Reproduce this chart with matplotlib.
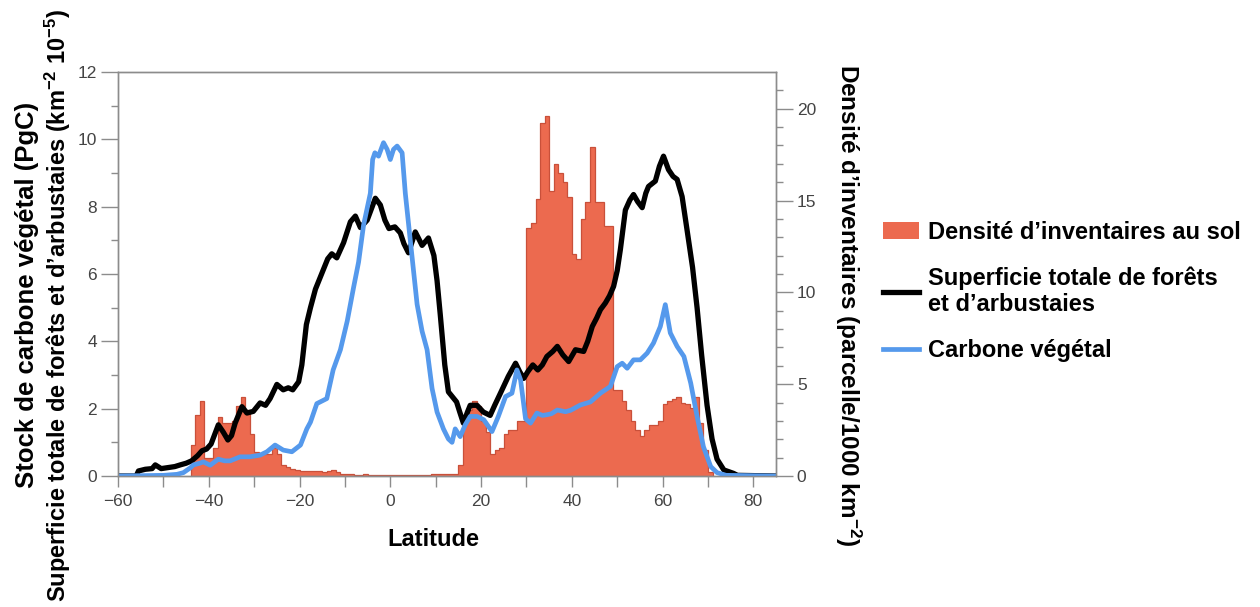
import numpy as np
import matplotlib.pyplot as plt
from matplotlib.patches import Patch
from matplotlib.lines import Line2D

plt.rcParams['font.family'] = ['Liberation Sans', 'DejaVu Sans']
plt.rcParams['mathtext.fontset'] = 'custom'
plt.rcParams['mathtext.rm'] = 'Liberation Sans:bold'
plt.rcParams['mathtext.it'] = 'Liberation Sans:italic:bold'
plt.rcParams['mathtext.bf'] = 'Liberation Sans:bold'

# Densité d'inventaires au sol (parcelle/1000 km-2), classes de 1° de latitude
dens_start = -44
dens = [1.7, 3.3, 4.1, 1.0, 1.0, 1.5, 3.2, 2.9, 2.9, 3.0,      # -44 .. -35
        3.8, 4.3, 3.6, 2.3, 1.3, 1.25, 1.2, 1.2, 1.5, 1.2,      # -34 .. -25
        0.6, 0.5, 0.4, 0.35, 0.3, 0.25, 0.3, 0.25, 0.3, 0.2,    # -24 .. -15
        0.25, 0.35, 0.2, 0.1, 0.1, 0.1, 0.08, 0.08, 0.1, 0.05,  # -14 .. -5
        0.05, 0.05, 0.05, 0.05, 0.05, 0.05, 0.05, 0.05, 0.05, 0.05,  # -4 .. 5
        0.05, 0.05, 0.05, 0.1, 0.1, 0.1, 0.1, 0.1, 0.1, 0.6,    # 6 .. 15
        3.0, 3.6, 4.1, 3.8, 3.0, 2.4, 1.2, 1.4, 1.5, 2.3,       # 16 .. 25
        2.5, 2.5, 3.0, 3.0, 13.5, 13.8, 15.1, 19.2, 19.6, 15.5, # 26 .. 35
        17.0, 16.5, 16.0, 15.2, 12.1, 11.8, 14.0, 14.9, 17.9, 14.9,  # 36 .. 45
        14.9, 13.6, 13.6, 4.7, 4.7, 4.1, 3.6, 3.0, 2.5, 2.2,    # 46 .. 55
        2.5, 2.8, 2.8, 3.0, 3.9, 4.1, 4.2, 4.3, 4.0, 3.9,       # 56 .. 65
        3.7, 4.3, 2.9, 1.4, 0.2]                                # 66 .. 70
dens_edges = np.arange(dens_start, dens_start + len(dens) + 1)

# Superficie totale de forêts et d'arbustaies
lat_foret = [-60, -56, -55.5, -54, -52.5, -51.8, -50.5, -49, -47.5, -46.3,
             -45, -43.8, -42.5, -41.5, -40.5, -39.5, -38.8, -37.9, -36.8, -35.8,
             -35, -34.2, -32.7, -31.6, -30.2, -28.7, -27.5, -26.5, -25, -23.6,
             -22.5, -21.5, -20.2, -19.5, -18.5, -17.6, -16.5, -14.7, -13.8, -12.9,
             -11.8, -10.3, -8.8, -7.7, -6.6, -5.1, -3.3, -2.2, -1.2, -0.3,
             1.0, 2.2, 3.0, 4.0, 5.5, 7.0, 8.4, 9.6, 10.3, 11.0,
             12.0, 12.8, 14.0, 14.6, 15.3, 16.1, 17.0, 17.6, 19.1, 20.5,
             22, 23, 24.3, 26, 27.6, 28.5, 29.4, 30.3, 31.4, 32.5,
             33.5, 34.5, 35.8, 36.8, 38, 39.3, 40.8, 42.6, 43.5, 44.5,
             45.5, 46.3, 47.4, 48.3, 49.2, 50.0, 50.7, 51.8, 52.8, 53.6,
             54.5, 55.5, 56.3, 56.9, 58.4, 59.3, 60.2, 61.3, 62.3, 63.2,
             64.3, 65.4, 66.6, 67.6, 68.6, 69.8, 70.9, 72, 73.5, 75.6,
             76.5, 85]
foret = [0, 0, 0.15, 0.2, 0.22, 0.33, 0.22, 0.25, 0.28, 0.33,
         0.38, 0.45, 0.6, 0.75, 0.8, 0.95, 1.2, 1.52, 1.3, 1.07,
         1.2, 1.57, 2.06, 1.87, 1.92, 2.17, 2.1, 2.3, 2.72, 2.56,
         2.62, 2.56, 2.8, 3.3, 4.5, 5.0, 5.55, 6.15, 6.45, 6.6,
         6.48, 6.93, 7.55, 7.72, 7.38, 7.6, 8.25, 8.05, 7.6, 7.35,
         7.4, 7.22, 6.9, 6.63, 7.25, 6.85, 7.07, 6.55, 5.8, 4.8,
         3.3, 2.5, 2.3, 2.2, 1.9, 1.57, 1.9, 2.1, 2.1, 1.9,
         1.8, 2.1, 2.47, 2.96, 3.35, 3.1, 2.9, 3.1, 3.3, 3.15,
         3.3, 3.55, 3.7, 3.85, 3.6, 3.4, 3.75, 3.7, 4.0, 4.44,
         4.7, 4.94, 5.14, 5.35, 5.63, 6.1, 6.73, 7.9, 8.2, 8.36,
         8.15, 7.97, 8.4, 8.6, 8.76, 9.2, 9.5, 9.1, 8.9, 8.81,
         8.3, 7.3, 6.2, 5.0, 3.6, 2.1, 1.1, 0.5, 0.18, 0.08,
         0.02, 0]

# Carbone végétal
lat_carb = [-60, -50, -47, -45.6, -44, -43.4, -42, -41.2, -39.7, -37.9,
            -36.5, -35.3, -33.1, -31, -28.7, -27.2, -25.4, -23.6, -21.7, -19.8,
            -18.4, -17.6, -16.2, -14, -12.6, -11.0, -9.5, -8.1, -7.0, -5.9,
            -4.4, -3.9, -3.4, -2.6, -1.5, -0.7, 0, 0.7, 1.5, 2.6,
            3.3, 4.4, 5.9, 7.0, 8.1, 9.2, 10.3, 11.7, 12.8, 13.6,
            14.3, 15.4, 16.5, 17.6, 19.1, 20.6, 22.4, 23.8, 25.4, 26.8,
            27.9, 28.7, 29.8, 30.9, 32.3, 33.5, 34.5, 35.5, 36.8, 38.6,
            39.7, 41.9, 44.1, 46.3, 48.5, 50, 51.1, 52.2, 53.6, 55.1,
            56.6, 58, 59.5, 60.6, 61.7, 63.2, 64.7, 66.2, 67.6, 69,
            70.6, 72, 74, 85]
carb = [0, 0.02, 0.05, 0.1, 0.25, 0.33, 0.38, 0.42, 0.32, 0.5,
        0.45, 0.45, 0.57, 0.57, 0.62, 0.72, 0.92, 0.77, 0.72, 0.92,
        1.4, 1.6, 2.15, 2.3, 3.15, 3.75, 4.6, 5.6, 6.35, 7.45,
        8.4, 9.4, 9.6, 9.5, 9.9, 9.7, 9.4, 9.7, 9.8, 9.6,
        8.4, 7.0, 5.1, 4.3, 3.75, 2.6, 1.9, 1.4, 1.1, 1.0,
        1.4, 1.17, 1.52, 1.77, 1.77, 1.67, 1.32, 1.77, 2.36, 2.46,
        3.15, 2.86, 1.7, 1.57, 1.87, 1.8, 1.82, 1.85, 1.96, 1.91,
        1.95, 2.11, 2.2, 2.46, 2.66, 3.25, 3.35, 3.2, 3.45, 3.45,
        3.65, 3.95, 4.44, 5.09, 4.25, 3.85, 3.55, 2.76, 1.77, 0.87,
        0.28, 0.1, 0.02, 0]

c_dens = '#EC6A4F'
c_dens_edge = '#C9503A'
c_carb = '#5599EC'
c_axe = '#8C8C8C'
c_txt = '#444444'

fig = plt.figure(figsize=(12.6, 6.07), dpi=100)
ax = fig.add_axes([0.0937, 0.2158, 0.5222, 0.6656])
ax2 = ax.twinx()

# histogramme derrière les courbes
ax2.stairs(dens, dens_edges, fill=True, color=c_dens, lw=0)
ax2.stairs(dens, dens_edges, color=c_dens_edge, lw=0.9)
ax.set_zorder(ax2.get_zorder() + 1)
ax.patch.set_visible(False)

ax.plot(lat_foret, foret, color='black', lw=3.8, solid_joinstyle='round',
        solid_capstyle='round')
ax.plot(lat_carb, carb, color=c_carb, lw=3.4, solid_joinstyle='round',
        solid_capstyle='round')

ax.set_xlim(-60, 85)
ax.set_ylim(0, 12)
ax2.set_ylim(0, 22)

ax.set_xticks(np.arange(-60, 81, 20))
ax.set_xticks(np.arange(-60, 86, 10), minor=True)
ax.set_yticks(np.arange(0, 13, 2))
ax.set_yticks(np.arange(1, 12, 2), minor=True)
ax2.set_yticks(np.arange(0, 21, 5))
ax2.set_yticks(np.arange(0, 22, 1), minor=True)

ax.tick_params(axis='x', which='both', length=8, width=1, color=c_axe,
               labelsize=12.5, labelcolor=c_txt, pad=5)
ax.tick_params(axis='y', which='major', length=12, width=1, color=c_axe,
               labelsize=12.5, labelcolor=c_txt, pad=3)
ax.tick_params(axis='y', which='minor', length=5, width=1, color=c_axe)
ax2.tick_params(axis='y', which='major', length=12, width=1, color=c_axe,
                labelsize=12.5, labelcolor=c_txt, pad=3)
ax2.tick_params(axis='y', which='minor', length=5, width=1, color=c_axe)
ax.set_xticklabels(['\u221260', '\u221240', '\u221220', '0', '20', '40', '60', '80'])

for a in (ax, ax2):
    for s in a.spines.values():
        s.set_color(c_axe)
        s.set_linewidth(1)

ax.set_xlabel('Latitude', fontsize=17, fontweight='bold', va='center')
ax.xaxis.set_label_coords(0.479, -0.158)

# libellé de gauche sur deux lignes
ax.set_ylabel('Superficie totale de forêts et d\u2019arbustaies (km$^{-2}$ 10$^{-5}$)',
              fontsize=17, fontweight='bold', ha='center', va='center')
ax.yaxis.set_label_coords(-0.0912, 0.423)
ax.text(-0.1383, 0.448, 'Stock de carbone végétal (PgC)', transform=ax.transAxes,
        rotation=90, fontsize=18.5, fontweight='bold', ha='center', va='center')

ax2.set_ylabel('Densité d\u2019inventaires (parcelle/1000 km$^{-2}$)',
               fontsize=17.5, fontweight='bold', rotation=270, ha='center', va='center')
ax2.yaxis.set_label_coords(1.109, 0.423)

handles = [Patch(facecolor=c_dens, edgecolor='none'),
           Line2D([], [], color='black', lw=3.8),
           Line2D([], [], color=c_carb, lw=3.4)]
labels = ['Densité d\u2019inventaires au sol',
          'Superficie totale de forêts\net d\u2019arbustaies',
          'Carbone végétal']
fig.legend(handles, labels, loc='center left', bbox_to_anchor=(0.684, 0.52),
           frameon=False, prop={'size': 17, 'weight': 'bold'},
           handlelength=1.5, handletextpad=0.4, labelspacing=0.95)

fig.savefig('out.png', dpi=100)
